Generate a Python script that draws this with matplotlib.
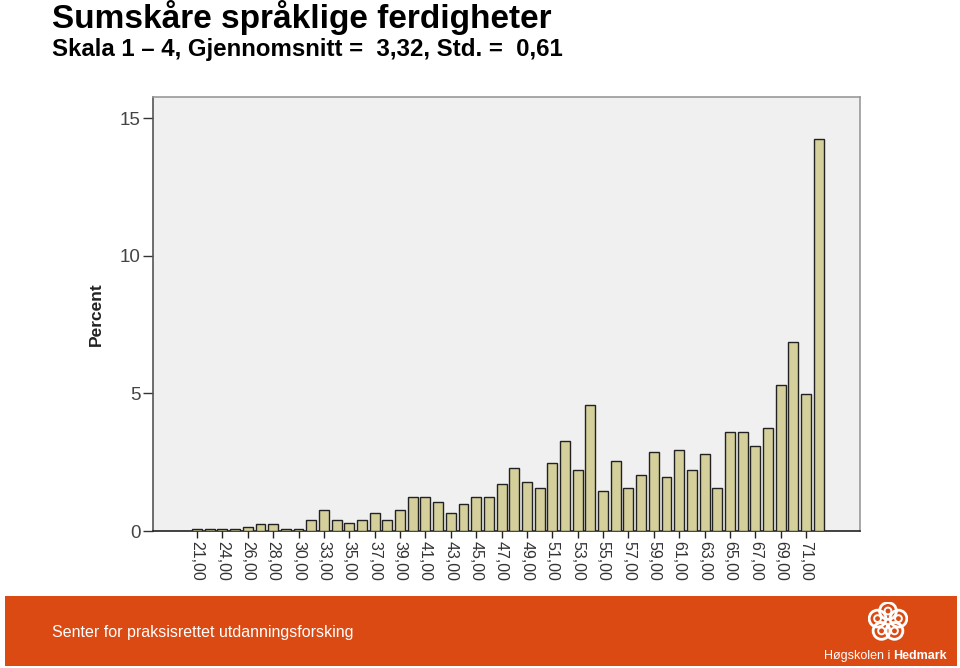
import matplotlib
matplotlib.use("Agg")
import matplotlib.pyplot as plt
from matplotlib.patches import Rectangle, Circle
import math

categories = [21, 23, 24, 25, 26, 27, 28, 29, 30, 32] + list(range(33, 73))
percent = [0.08, 0.08, 0.08, 0.08, 0.16, 0.24, 0.24, 0.08, 0.08, 0.40,
           0.76, 0.40, 0.30, 0.40, 0.66, 0.40, 0.76, 1.23, 1.22, 1.07,
           0.66, 0.99, 1.22, 1.22, 1.71, 2.28, 1.79, 1.55, 2.47, 3.27,
           2.20, 4.58, 1.47, 2.55, 1.55, 2.03, 2.88, 1.95, 2.94, 2.20,
           2.80, 1.55, 3.58, 3.58, 3.10, 3.74, 5.30, 6.85, 4.98, 14.26]
yticks = [0, 5, 10, 15]
title = "Sumskåre språklige ferdigheter"
subtitle = "Skala 1 – 4, Gjennomsnitt =  3,32, Std. =  0,61"
footer = "Senter for praksisrettet utdanningsforsking"

W, H = 960, 668
plt.rcParams['font.family'] = ['Liberation Sans', 'DejaVu Sans']
fig = plt.figure(figsize=(W / 100, H / 100), dpi=100)
fig.patch.set_facecolor("white")

def px(x0, y0, x1, y1):
    return [x0 / W, 1 - y1 / H, (x1 - x0) / W, (y1 - y0) / H]

ax = fig.add_axes(px(153, 97, 860, 531))
ax.set_facecolor("#F0F0F0")
xs = list(range(len(categories)))
ax.bar(xs, percent, width=0.78, color="#D5D09B", edgecolor="#222222", linewidth=1.0, zorder=3)
ax.set_xlim(-3.47, 52.25)
ax.set_ylim(0, 15.77)
ax.set_yticks(yticks)
ax.set_yticklabels([str(v) for v in yticks], fontsize=13.5, color="#444444")
lab_idx = [i for i in xs if i % 2 == 0]
ax.set_xticks(lab_idx)
ax.set_xticklabels([f"{categories[i]},00" for i in lab_idx], rotation=-90,
                   fontsize=11.5, color="#333333")
ax.tick_params(axis='y', length=7, width=1, color="#333333", pad=2)
ax.tick_params(axis='x', length=5, width=1, color="#222222", pad=2)
for s in ['top', 'right']:
    ax.spines[s].set_color("#999999")
ax.spines['left'].set_color("#555555")
ax.spines['bottom'].set_color("#222222")
for s in ax.spines.values():
    s.set_linewidth(1.2)
ax.set_ylabel("Percent", fontsize=12.5, fontweight='bold', color="#222222", labelpad=11)

fig.text(52 / W, 1 - 28 / H, title, fontsize=24, fontweight='bold', color="black", va='baseline')
fig.text(52 / W, 1 - 56 / H, subtitle, fontsize=17.3, fontweight='bold', color="black", va='baseline')

# footer band
fig.patches.append(Rectangle((5 / W, 1 - 666 / H), (957 - 5) / W, (666 - 596) / H,
                             transform=fig.transFigure, facecolor="#DC4A13", edgecolor="none", zorder=0))
fig.text(52 / W, 1 - 637 / H, footer, fontsize=11.5, color="white", va='baseline')
fig.text(890 / W, 1 - 659 / H, "Høgskolen i", fontsize=9, color="white", va='baseline', ha='right')
fig.text(893 / W, 1 - 659 / H, "Hedmark", fontsize=9, fontweight='bold', color="white", va='baseline')

# simple logo mark
lax = fig.add_axes(px(868, 602, 908, 642))
lax.set_zorder(10)
lax.patch.set_alpha(0)
lax.set_xlim(-1, 1); lax.set_ylim(-1, 1); lax.set_aspect('equal'); lax.axis('off')
for k in range(5):
    a = math.pi / 2 + k * 2 * math.pi / 5
    cx, cy = 0.55 * math.cos(a), 0.55 * math.sin(a)
    lax.add_patch(Circle((cx, cy), 0.42, fill=False, edgecolor="white", linewidth=2.0))
    lax.add_patch(Circle((cx, cy), 0.17, fill=False, edgecolor="white", linewidth=1.4))

fig.savefig("out.png", dpi=100, facecolor=fig.get_facecolor())
